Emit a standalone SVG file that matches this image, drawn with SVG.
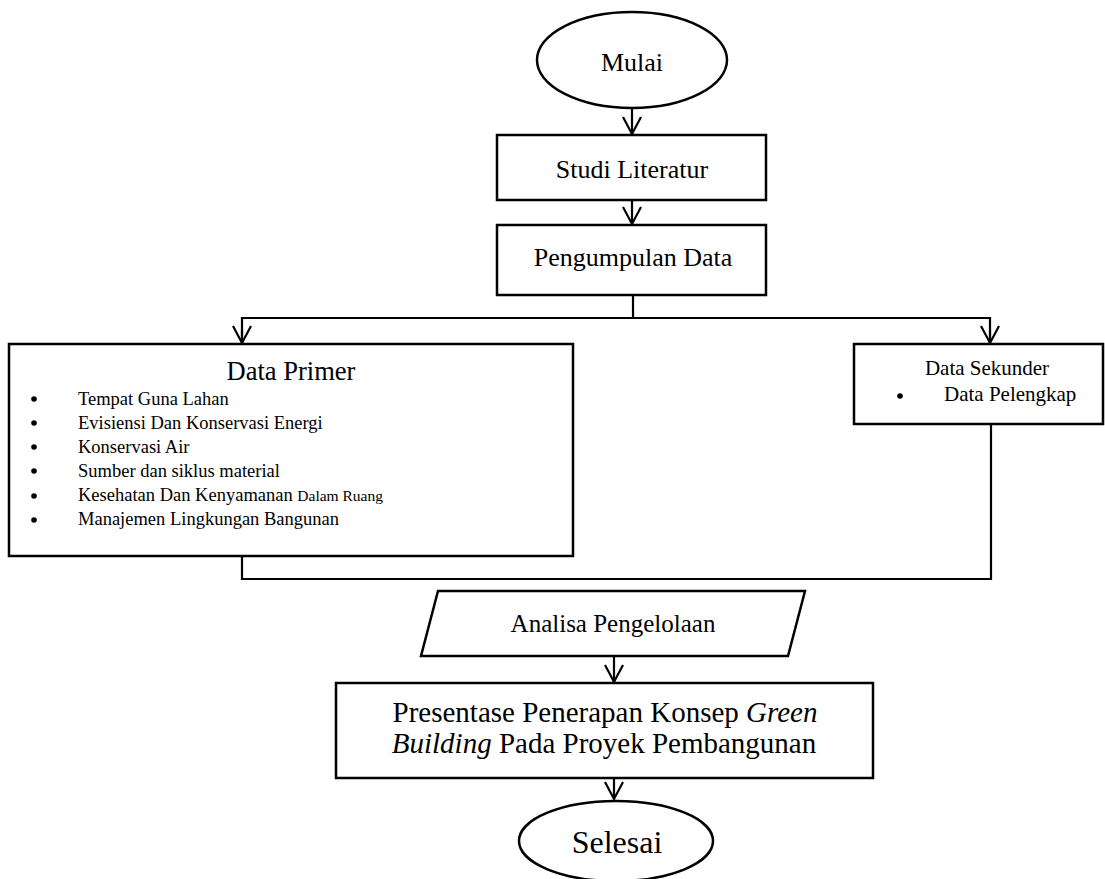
<svg xmlns="http://www.w3.org/2000/svg" width="1105" height="879" viewBox="0 0 1105 879">
<style>
.s{fill:#fff;stroke:#000;stroke-width:2.5}
.c{fill:none;stroke:#000;stroke-width:2.2}
text{font-family:"Liberation Serif","Times New Roman",serif;fill:#000}
.t{font-size:26px;text-anchor:middle}
.b{font-size:18.5px}
</style>
<defs>
<marker id="v" markerUnits="userSpaceOnUse" markerWidth="24" markerHeight="24" viewBox="-20 -12 24 24" refX="0" refY="0" orient="auto">
<path d="M-17,-9 L0,0 L-17,9" fill="none" stroke="#000" stroke-width="2.2"/>
</marker>
</defs>
<rect width="1105" height="879" fill="#fff"/>
<g id="connectors">
<line class="c" x1="632" y1="108" x2="632" y2="134" marker-end="url(#v)"/>
<line class="c" x1="632" y1="200" x2="632" y2="224" marker-end="url(#v)"/>
<line class="c" x1="633" y1="295" x2="633" y2="318"/>
<polyline class="c" points="242,343 242,318 990,318 990,343"/>
<line class="c" x1="242" y1="330" x2="242" y2="343" marker-end="url(#v)"/>
<line class="c" x1="990" y1="330" x2="990" y2="343" marker-end="url(#v)"/>
<polyline class="c" points="242,556 242,579 991,579 991,424"/>
<line class="c" x1="614" y1="656" x2="614" y2="682" marker-end="url(#v)"/>
<line class="c" x1="614" y1="778" x2="614" y2="799" marker-end="url(#v)"/>
</g>
<g id="mulai">
<ellipse class="s" cx="632" cy="60" rx="95" ry="48"/>
<text class="t" x="632" y="71">Mulai</text>
</g>
<g id="studi">
<rect class="s" x="497" y="135" width="269" height="65"/>
<text class="t" x="632" y="178">Studi Literatur</text>
</g>
<g id="pengumpulan">
<rect class="s" x="497" y="225" width="269" height="70"/>
<text class="t" x="633" y="266">Pengumpulan Data</text>
</g>
<g id="primer">
<rect class="s" x="9" y="344" width="564" height="212"/>
<text x="291" y="380" font-size="26.5" text-anchor="middle">Data Primer</text>
<g class="b">
<circle cx="34" cy="399" r="2.8"/><text x="78" y="405">Tempat Guna Lahan</text>
<circle cx="34" cy="423" r="2.8"/><text x="78" y="429">Evisiensi Dan Konservasi Energi</text>
<circle cx="34" cy="447" r="2.8"/><text x="78" y="453">Konservasi Air</text>
<circle cx="34" cy="471" r="2.8"/><text x="78" y="477">Sumber dan siklus material</text>
<circle cx="34" cy="496" r="2.8"/><text x="78" y="501">Kesehatan Dan Kenyamanan <tspan font-size="15.5">Dalam Ruang</tspan></text>
<circle cx="34" cy="520" r="2.8"/><text x="78" y="525">Manajemen Lingkungan Bangunan</text>
</g>
</g>
<g id="sekunder">
<rect class="s" x="854" y="344" width="249" height="80"/>
<text x="987" y="375" font-size="21" text-anchor="middle">Data Sekunder</text>
<circle cx="900" cy="396" r="2.8"/>
<text x="944" y="401" font-size="21">Data Pelengkap</text>
</g>
<g id="analisa">
<polygon class="s" points="438,591 805,591 788,656 421,656"/>
<text x="613" y="632" font-size="25" text-anchor="middle">Analisa Pengelolaan</text>
</g>
<g id="presentase">
<rect class="s" x="336" y="683" width="537" height="95"/>
<text x="605" y="722" font-size="29" text-anchor="middle">Presentase Penerapan Konsep <tspan font-style="italic">Green</tspan></text>
<text x="604" y="753" font-size="29" text-anchor="middle"><tspan font-style="italic">Building</tspan> Pada Proyek Pembangunan</text>
</g>
<g id="selesai">
<ellipse class="s" cx="616" cy="841" rx="97" ry="40"/>
<text x="617" y="853" font-size="32" text-anchor="middle">Selesai</text>
</g>
</svg>
